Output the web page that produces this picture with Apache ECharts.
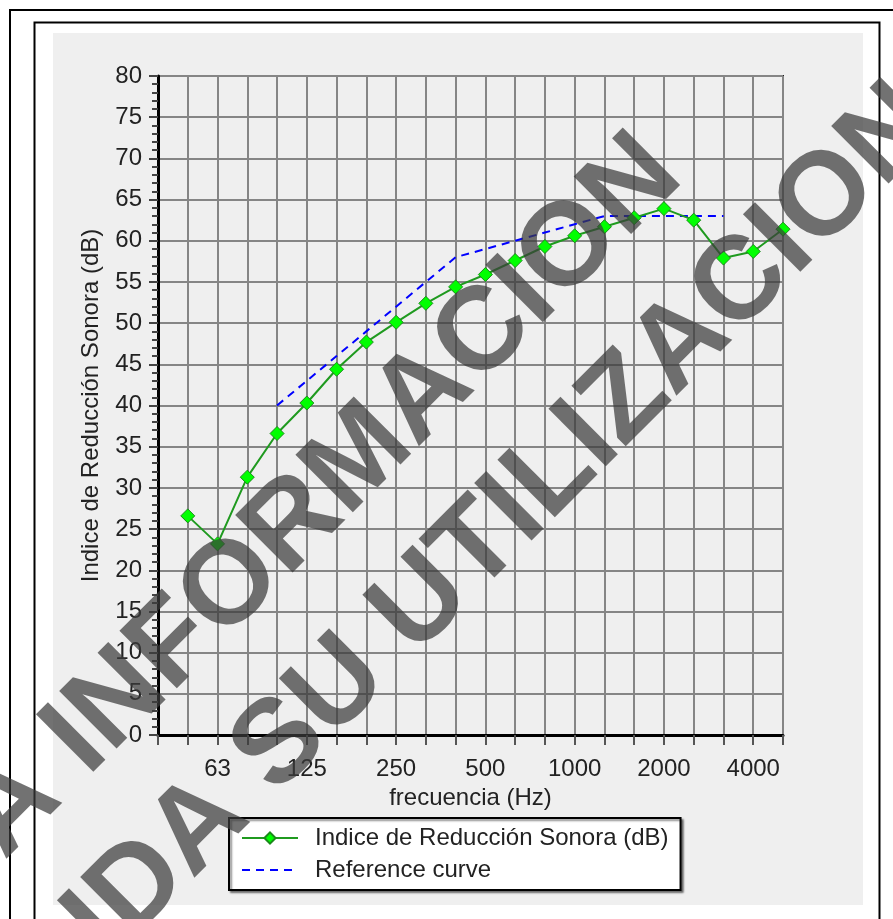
<!DOCTYPE html>
<html>
<head>
<meta charset="utf-8">
<script src="https://cdn.jsdelivr.net/npm/echarts@6/dist/echarts.min.js"></script>
<style>
html,body{margin:0;padding:0;background:#fff;}
#chart{width:893px;height:919px;}
</style>
</head>
<body>
<div id="chart"></div>
<script>
// Third-octave band centre frequencies (first slot is an unlabeled lead-in)
const categories = ['', '50', '63', '80', '100', '125', '160', '200', '250', '315', '400', '500', '630', '800', '1000', '1250', '1600', '2000', '2500', '3150', '4000', '5000'];
const tickLabels = ['63', '125', '250', '500', '1000', '2000', '4000'];
const reductionIndex = [null, 26.6, 23.2, 31.3, 36.6, 40.3, 44.4, 47.7, 50.1, 52.4, 54.4, 55.9, 57.6, 59.3, 60.6, 61.7, 62.8, 63.9, 62.5, 57.9, 58.7, 61.4];
const referenceCurve = [null, null, null, null, 40, 43, 46, 49, 52, 55, 58, 59, 60, 61, 62, 63, 63, 63, 63, 63, null, null];
const yTicks = { min: 0, max: 80, interval: 5 };
const seriesNames = ['Indice de Reducción Sonora (dB)', 'Reference curve'];
const axisNames = { x: 'frecuencia (Hz)', y: 'Indice de Reducción Sonora (dB)' };
const watermark = ['A INFORMACION', 'IDA SU UTILIZACION'];

const FONT = "'Liberation Sans', Arial, sans-serif";
const FS = 24;
const WM_FONT = "bold 118px 'Liberation Sans', Arial, sans-serif";
const chart = echarts.init(document.getElementById('chart'), null, { renderer: 'canvas' });

chart.setOption({
  backgroundColor: '#ffffff',
  animation: false,
  textStyle: { fontFamily: FONT },
  graphic: [
    { type: 'rect', z: -10, shape: { x: 10, y: 10, width: 900, height: 920 }, style: { fill: '#fff', stroke: '#000', lineWidth: 2 } },
    { type: 'rect', z: -9, shape: { x: 34.5, y: 22.5, width: 845, height: 920 }, style: { fill: '#fff', stroke: '#000', lineWidth: 2 } },
    { type: 'rect', z: -8, shape: { x: 53, y: 33, width: 810, height: 872 }, style: { fill: '#efefef' } },
    { type: 'text', z: 100, x: 322, y: 497, rotation: Math.PI / 4,
      style: { text: watermark[0], x: 0, y: 0, textAlign: 'center', textVerticalAlign: 'middle', font: WM_FONT, fill: 'rgba(60,60,60,0.72)' } },
    { type: 'text', z: 100, x: 503, y: 523, rotation: Math.PI / 4,
      style: { text: watermark[1], x: 0, y: 0, textAlign: 'center', textVerticalAlign: 'middle', font: WM_FONT, fill: 'rgba(60,60,60,0.72)' } }
  ],
  grid: {
    left: 158, top: 76, right: 110, bottom: 184,
    show: true, backgroundColor: '#efefef', borderColor: '#222', borderWidth: 2
  },
  legend: {
    orient: 'vertical',
    left: 229, top: 818,
    padding: [8, 12, 8, 12],
    itemWidth: 56, itemHeight: 14, itemGap: 8,
    backgroundColor: '#fff', borderColor: '#000', borderWidth: 2,
    shadowColor: 'rgba(0,0,0,0.45)', shadowOffsetX: 2, shadowOffsetY: 2, shadowBlur: 2,
    textStyle: { fontFamily: FONT, fontSize: FS, color: '#222', padding: [0, 0, 0, 12] },
    data: [
      { name: seriesNames[0] },
      { name: seriesNames[1], itemStyle: { opacity: 0 } }
    ]
  },
  xAxis: {
    type: 'category',
    data: categories,
    boundaryGap: false,
    name: axisNames.x,
    nameLocation: 'middle',
    nameGap: 51,
    nameTextStyle: { fontFamily: FONT, fontSize: FS, color: '#222' },
    axisLine: { show: true, lineStyle: { color: '#000', width: 3 } },
    axisTick: { show: true, interval: 0, length: 10, lineStyle: { color: '#555', width: 2 } },
    axisLabel: { interval: 0, margin: 22, fontFamily: FONT, fontSize: FS, color: '#222',
      formatter: v => tickLabels.includes(v) ? v : '' },
    splitLine: { show: true, interval: 0, lineStyle: { color: '#858585', width: 2 } }
  },
  yAxis: {
    type: 'value',
    min: yTicks.min, max: yTicks.max, interval: yTicks.interval,
    name: axisNames.y,
    nameLocation: 'middle',
    nameGap: 55,
    nameRotate: 90,
    nameTextStyle: { fontFamily: FONT, fontSize: FS, color: '#222' },
    axisLine: { show: true, lineStyle: { color: '#000', width: 3 } },
    axisTick: { show: true, length: 9, lineStyle: { color: '#444', width: 2 } },
    minorTick: { show: true, splitNumber: 5, length: 6, lineStyle: { color: '#444', width: 2 } },
    axisLabel: { margin: 16, fontFamily: FONT, fontSize: FS, color: '#222' },
    splitLine: { show: true, lineStyle: { color: '#858585', width: 2 } }
  },
  series: [
    {
      name: seriesNames[0],
      type: 'line',
      data: reductionIndex,
      symbol: 'diamond',
      symbolSize: 14,
      lineStyle: { color: '#1f9a1f', width: 2 },
      itemStyle: { color: '#00ff00', borderColor: '#1a8a1a', borderWidth: 1 },
      z: 4
    },
    {
      name: seriesNames[1],
      type: 'line',
      data: referenceCurve,
      symbol: 'none',
      lineStyle: { color: '#0000ff', width: 2, type: [8, 6] },
      itemStyle: { color: '#0000ff' },
      z: 3
    }
  ]
});
</script>
</body>
</html>
